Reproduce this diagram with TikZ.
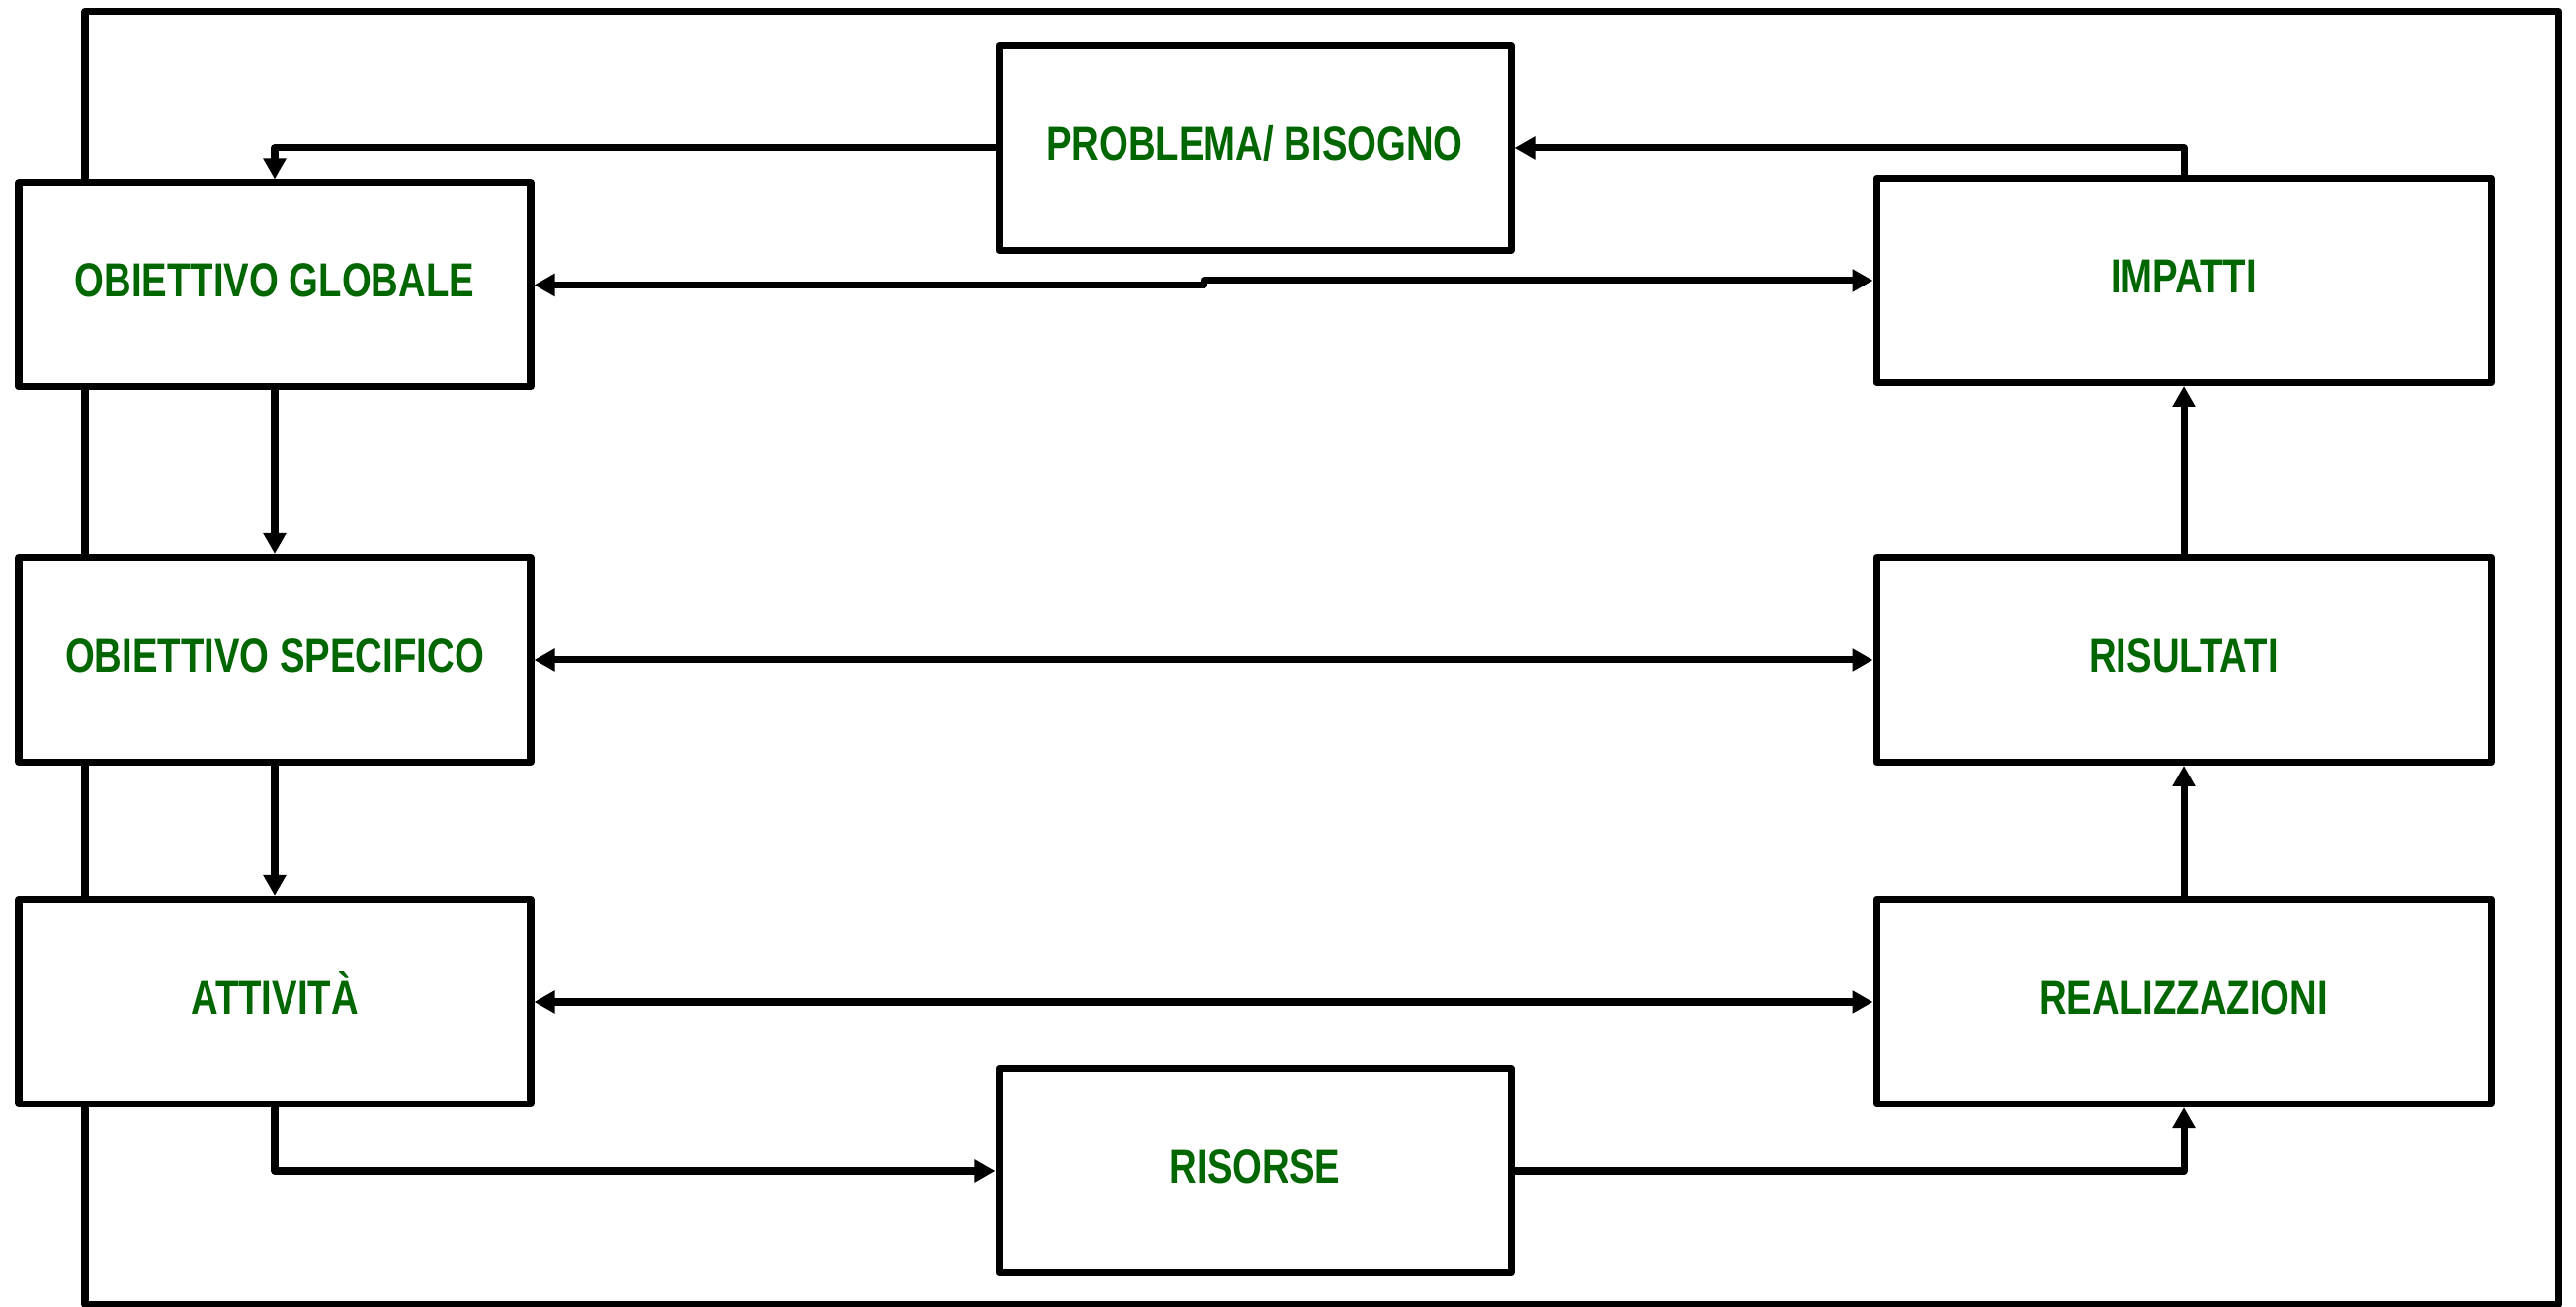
\documentclass[tikz,border=0pt]{standalone}
\usepackage{fontspec}
\newfontfamily\boxfont{Liberation Sans}[FakeStretch=0.79]
\usetikzlibrary{arrows.meta,calc}
\definecolor{labelgreen}{RGB}{0,102,0}
\tikzset{
  box/.style={draw,fill=white,line width=2pt,minimum height=2.07cm,inner sep=0pt,
    text height=0.35cm,text depth=0.1cm,text=labelgreen,
    font=\boxfont\bfseries\fontsize{13.8}{16}\selectfont},
  narrowbox/.style={box,minimum width=5.18cm},
  widebox/.style={box,minimum width=6.22cm}
}
\begin{document}
\begin{tikzpicture}[>={Triangle[length=0.21cm,width=0.22cm]},line join=round,line cap=round,line width=2pt]
\useasboundingbox (0,0) rectangle (26.07,13.23);
% outer frame
\draw (0.86,0.025) rectangle (25.895,13.115);
% left column
\node[narrowbox] (glob) at (2.78,10.345) {OBIETTIVO GLOBALE};
\node[narrowbox] (spec) at (2.78,6.55) {OBIETTIVO SPECIFICO};
\node[narrowbox] (att) at (2.78,3.09) {ATTIVITÀ};
% middle
\node[narrowbox] (prob) at (12.70,11.73) {PROBLEMA/ BISOGNO};
\node[narrowbox] (riso) at (12.70,1.38) {RISORSE};
% right column
\node[widebox] (imp) at (22.10,10.39) {IMPATTI};
\node[widebox] (risul) at (22.10,6.55) {RISULTATI};
\node[widebox] (real) at (22.10,3.09) {REALIZZAZIONI};
% connectors
\draw[->] (prob.west) -| (glob.north);
\draw[->] (imp.north) |- (prob.east);
\draw[<->] (glob.east) -| ($(glob.east)!0.5!(imp.west)$) |- (imp.west);
\draw[->] (glob) -- (spec);
\draw[->] (spec) -- (att);
\draw[<->] (spec) -- (risul);
\draw[<->] (att) -- (real);
\draw[->] (att.south) |- (riso.west);
\draw[->] (riso.east) -| (real.south);
\draw[->] (real) -- (risul);
\draw[->] (risul) -- (imp);
\end{tikzpicture}
\end{document}
